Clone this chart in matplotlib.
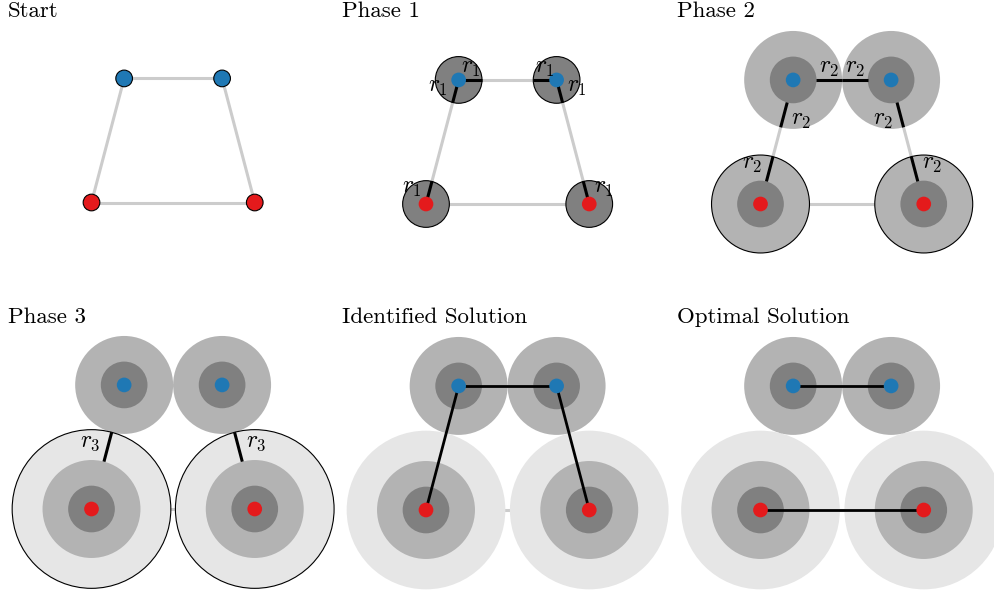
import matplotlib
matplotlib.use("Agg")
import matplotlib.pyplot as plt
import numpy as np
from matplotlib.patches import Circle

plt.rcParams['font.family'] = 'serif'
plt.rcParams['font.serif'] = ['cmr10']
plt.rcParams['mathtext.fontset'] = 'cm'
plt.rcParams['axes.formatter.use_mathtext'] = True

# nodes: 0,1 blue (top), 2,3 red (bottom)
node_x = [1.0, 4.0, 0.0, 5.0]
node_y = [3.8, 3.8, 0.0, 0.0]
node_col = ['#1f78b4', '#1f78b4', '#e41a1c', '#e41a1c']
edges = [(0, 1), (0, 2), (1, 3), (2, 3)]

# radius reached after each phase, and ring colours
ring_r = [0.715, 1.5, 2.43]
ring_c = ['0.5', '0.7', '0.9']

titles = ['Start', 'Phase 1', 'Phase 2', 'Phase 3', 'Identified Solution', 'Optimal Solution']
levels = [[0, 0, 0, 0], [1, 1, 1, 1], [2, 2, 2, 2], [2, 2, 3, 3], [2, 2, 3, 3], [2, 2, 3, 3]]
active = [[0, 0, 0, 0], [1, 1, 1, 1], [0, 0, 1, 1], [0, 0, 1, 1], [0, 0, 0, 0], [0, 0, 0, 0]]
# growth segments: (node, neighbour, label side)
growth = [
    [],
    [(0, 1, 1), (0, 2, -1), (1, 0, -1), (1, 3, 1), (2, 0, 1), (3, 1, -1)],
    [(0, 1, 1), (0, 2, 1), (1, 0, -1), (1, 3, -1), (2, 0, 1), (3, 1, -1)],
    [(2, 0, 1), (3, 1, -1)],
    [],
    [],
]
solution = [[], [], [], [], [(0, 1), (0, 2), (1, 3)], [(0, 1), (2, 3)]]

W, H = 995, 596
fig = plt.figure(figsize=(W / 100, H / 100), dpi=100)
s = 32.65
aw, ah = 326, 290
col_x = [0, 334.5, 669]
row_y = [0, 306]
ox = 91.5
oy = [202.5, 204, 204, 203, 204, 204]

for k in range(6):
    cx = col_x[k % 3]
    ry = row_y[k // 3]
    ax = fig.add_axes([cx / W, 1 - (ry + ah) / H, aw / W, ah / H])
    ax.set_xlim(-ox / s, (aw - ox) / s)
    ax.set_ylim(-(ah - oy[k]) / s, oy[k] / s)
    ax.axis('off')
    fig.text((cx + 8) / W, 1 - (ry + 16.7) / H, titles[k], fontsize=16.5, va='baseline')

    for a, b in edges:
        ax.plot([node_x[a], node_x[b]], [node_y[a], node_y[b]], color='#cccccc', lw=2.2,
                zorder=1, solid_capstyle='butt')

    for i in range(4):
        lv = levels[k][i]
        for j in range(lv - 1, -1, -1):
            edge = active[k][i] and j == lv - 1
            ax.add_patch(Circle((node_x[i], node_y[i]), ring_r[j], facecolor=ring_c[j],
                                edgecolor='black' if edge else 'none', lw=0.8,
                                zorder=2, clip_on=False))

    for i, n, side in growth[k]:
        d = np.array([node_x[n] - node_x[i], node_y[n] - node_y[i]])
        d = d / np.hypot(*d)
        lv = levels[k][i]
        r0 = ring_r[lv - 2] if lv >= 2 else 0.0
        r1 = ring_r[lv - 1]
        p0 = np.array([node_x[i], node_y[i]]) + d * r0
        p1 = np.array([node_x[i], node_y[i]]) + d * r1
        ax.plot([p0[0], p1[0]], [p0[1], p1[1]], color='black', lw=2.2, zorder=3,
                solid_capstyle='butt', clip_on=False)
        perp = np.array([-d[1], d[0]]) * side
        off = 0.36 + 0.2 * abs(perp[0])
        m = (p0 + p1) / 2 + perp * off
        ax.text(m[0], m[1], '$r_{%d}$' % lv, fontsize=17, ha='center', va='center', zorder=5)

    for a, b in solution[k]:
        ax.plot([node_x[a], node_x[b]], [node_y[a], node_y[b]], color='black', lw=2,
                zorder=3, solid_capstyle='butt')

    if k == 0:
        ax.scatter(node_x, node_y, s=144, c=node_col, edgecolors='black', linewidths=0.8, zorder=4)
    else:
        ax.scatter(node_x, node_y, s=112, c=node_col, edgecolors='none', zorder=4)

fig.savefig('out.png', dpi=100)
